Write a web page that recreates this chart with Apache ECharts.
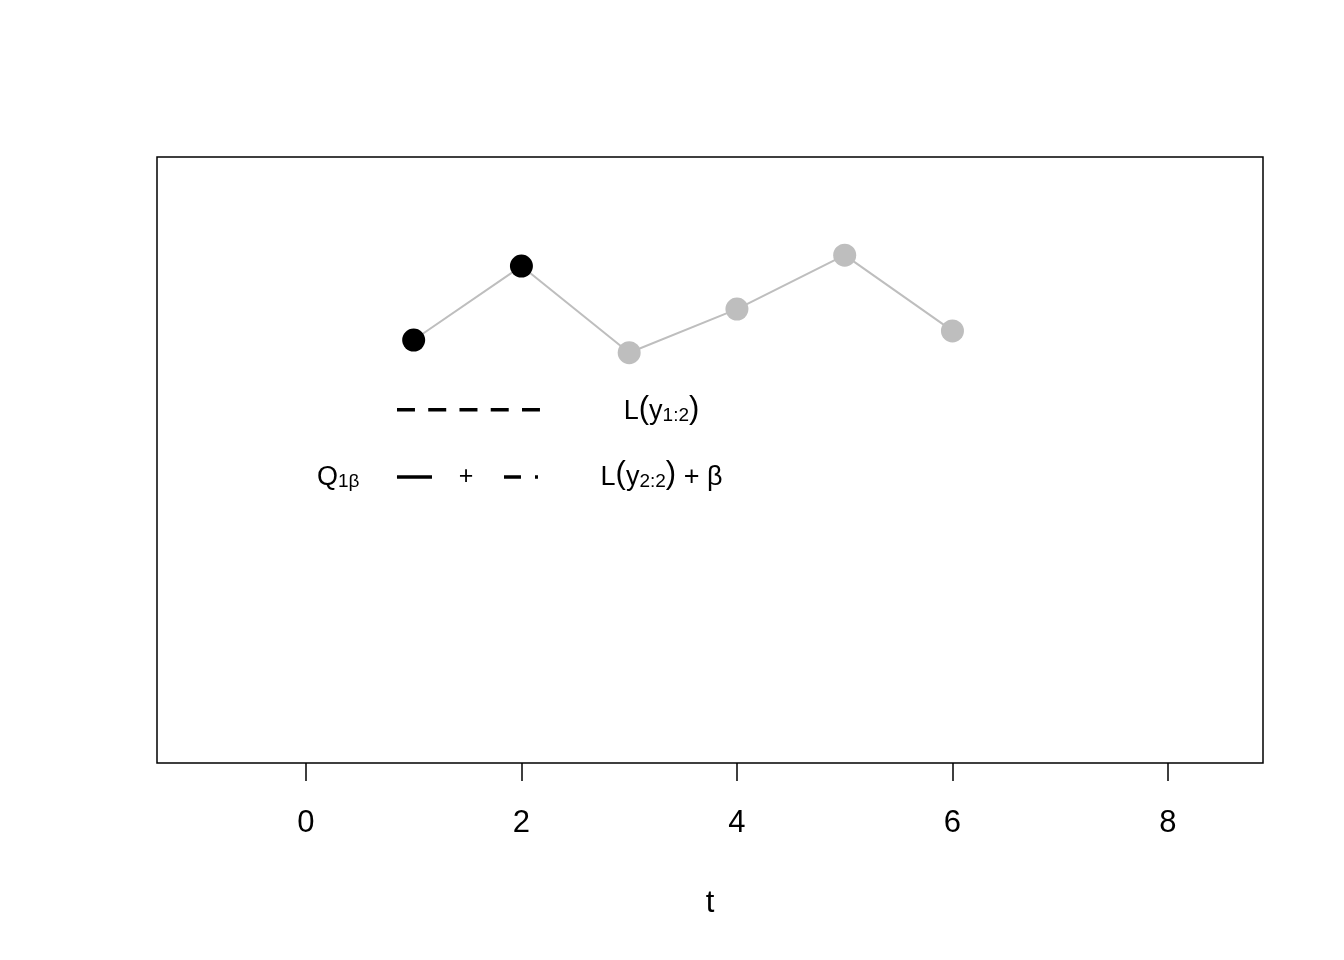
<!DOCTYPE html>
<html>
<head>
<meta charset="utf-8">
<script src="https://cdn.jsdelivr.net/npm/echarts@6/dist/echarts.min.js"></script>
<style>html,body{margin:0;padding:0;background:#fff}#c{width:1344px;height:960px}</style>
</head>
<body>
<div id="c"></div>
<script>
// time points and observed values
var tValues = [1, 2, 3, 4, 5, 6];
var yValues = [6.98, 8.20, 6.77, 7.49, 8.38, 7.13];
// the first two points are highlighted (black), rest grey
var nHighlighted = 2;
var xTicks = [0, 2, 4, 6, 8];
var xRange = [-1.382, 8.882];
var yRange = [0, 10];
// legend-like annotation rows (data coordinates)
var row1Y = 5.83;
var row2Y = 4.72;
var text1Y = 5.85;
var text2Y = 4.77;
var dashedSeg = [0.845, 2.172];
var solidSeg = [0.845, 1.17];
var dotdashSeg = [1.838, 2.172];
var labelQx = 0.30;
var plusX = 1.485;
var labelLx = 3.30;

var font = 'Liberation Sans, Arial, Helvetica, sans-serif';
var black = tValues.slice(0, nHighlighted).map(function (t, i) { return [t, yValues[i]]; });
var grey = tValues.slice(nHighlighted).map(function (t, i) { return [t, yValues[i + nHighlighted]]; });
var allPts = tValues.map(function (t, i) { return [t, yValues[i]]; });

var textRich = {
  a: { fontFamily: font, fontSize: 27, color: '#000', lineHeight: 34, verticalAlign: 'bottom' },
  p: { fontFamily: font, fontSize: 31, color: '#000', lineHeight: 34, verticalAlign: 'bottom', padding: [0, 0, 1, 0] },
  s: { fontFamily: font, fontSize: 19, color: '#000', lineHeight: 34, verticalAlign: 'bottom' }
};
var plusRich = {
  pl: { fontFamily: font, fontSize: 25, color: '#000', lineHeight: 30 }
};

function textSeries(x, y, fmt, rich) {
  return {
    type: 'scatter', symbolSize: 0, silent: true, z: 5,
    data: [[x, y]],
    itemStyle: { opacity: 1 },
    label: { show: true, position: 'inside', formatter: fmt, rich: rich, color: '#000' }
  };
}

var chart = echarts.init(document.getElementById('c'), null, { renderer: 'canvas' });
chart.setOption({
  animation: false,
  backgroundColor: '#fff',
  grid: { left: 157, top: 157, right: 81, bottom: 197, show: true, borderColor: '#000', borderWidth: 1.5, backgroundColor: 'transparent' },
  xAxis: {
    type: 'value', min: xRange[0], max: xRange[1],
    name: 't', nameLocation: 'middle', nameGap: 125,
    nameTextStyle: { fontFamily: font, fontSize: 31, color: '#000' },
    axisLine: { show: false },
    splitLine: { show: false },
    axisTick: { show: true, length: 18, lineStyle: { color: '#000', width: 1.5 }, customValues: xTicks },
    axisLabel: { show: true, margin: 45, fontFamily: font, fontSize: 31, color: '#000', customValues: xTicks }
  },
  yAxis: {
    type: 'value', min: yRange[0], max: yRange[1], show: false,
    splitLine: { show: false }
  },
  series: [
    {
      type: 'line', data: allPts, symbol: 'none', silent: true, z: 1,
      lineStyle: { color: '#bebebe', width: 2 }
    },
    {
      type: 'scatter', data: grey, symbol: 'circle', symbolSize: 23, silent: true, z: 3,
      itemStyle: { color: '#bebebe', opacity: 1 }
    },
    {
      type: 'scatter', data: black, symbol: 'circle', symbolSize: 23, silent: true, z: 3,
      itemStyle: { color: '#000', opacity: 1 }
    },
    {
      type: 'line', data: [[dashedSeg[0], row1Y], [dashedSeg[1], row1Y]], symbol: 'none', silent: true,
      lineStyle: { color: '#000', width: 3.5, type: [18, 13.25], cap: 'butt' }
    },
    {
      type: 'line', data: [[solidSeg[0], row2Y], [solidSeg[1], row2Y]], symbol: 'none', silent: true,
      lineStyle: { color: '#000', width: 3.5, cap: 'butt' }
    },
    {
      type: 'line', data: [[dotdashSeg[0], row2Y], [dotdashSeg[1], row2Y]], symbol: 'none', silent: true,
      lineStyle: { color: '#000', width: 3.5, type: [17, 14, 3, 14], cap: 'butt' }
    },
    textSeries(labelLx, text1Y, '{a|L}{p|(}{a|y}{s|1:2}{p|)}', textRich),
    textSeries(labelQx, text2Y, '{a|Q}{s|1\u03B2}', textRich),
    textSeries(plusX, row2Y, '{pl|+}', plusRich),
    textSeries(labelLx, text2Y, '{a|L}{p|(}{a|y}{s|2:2}{p|)}{a| + \u03B2}', textRich)
  ]
});
</script>
</body>
</html>
